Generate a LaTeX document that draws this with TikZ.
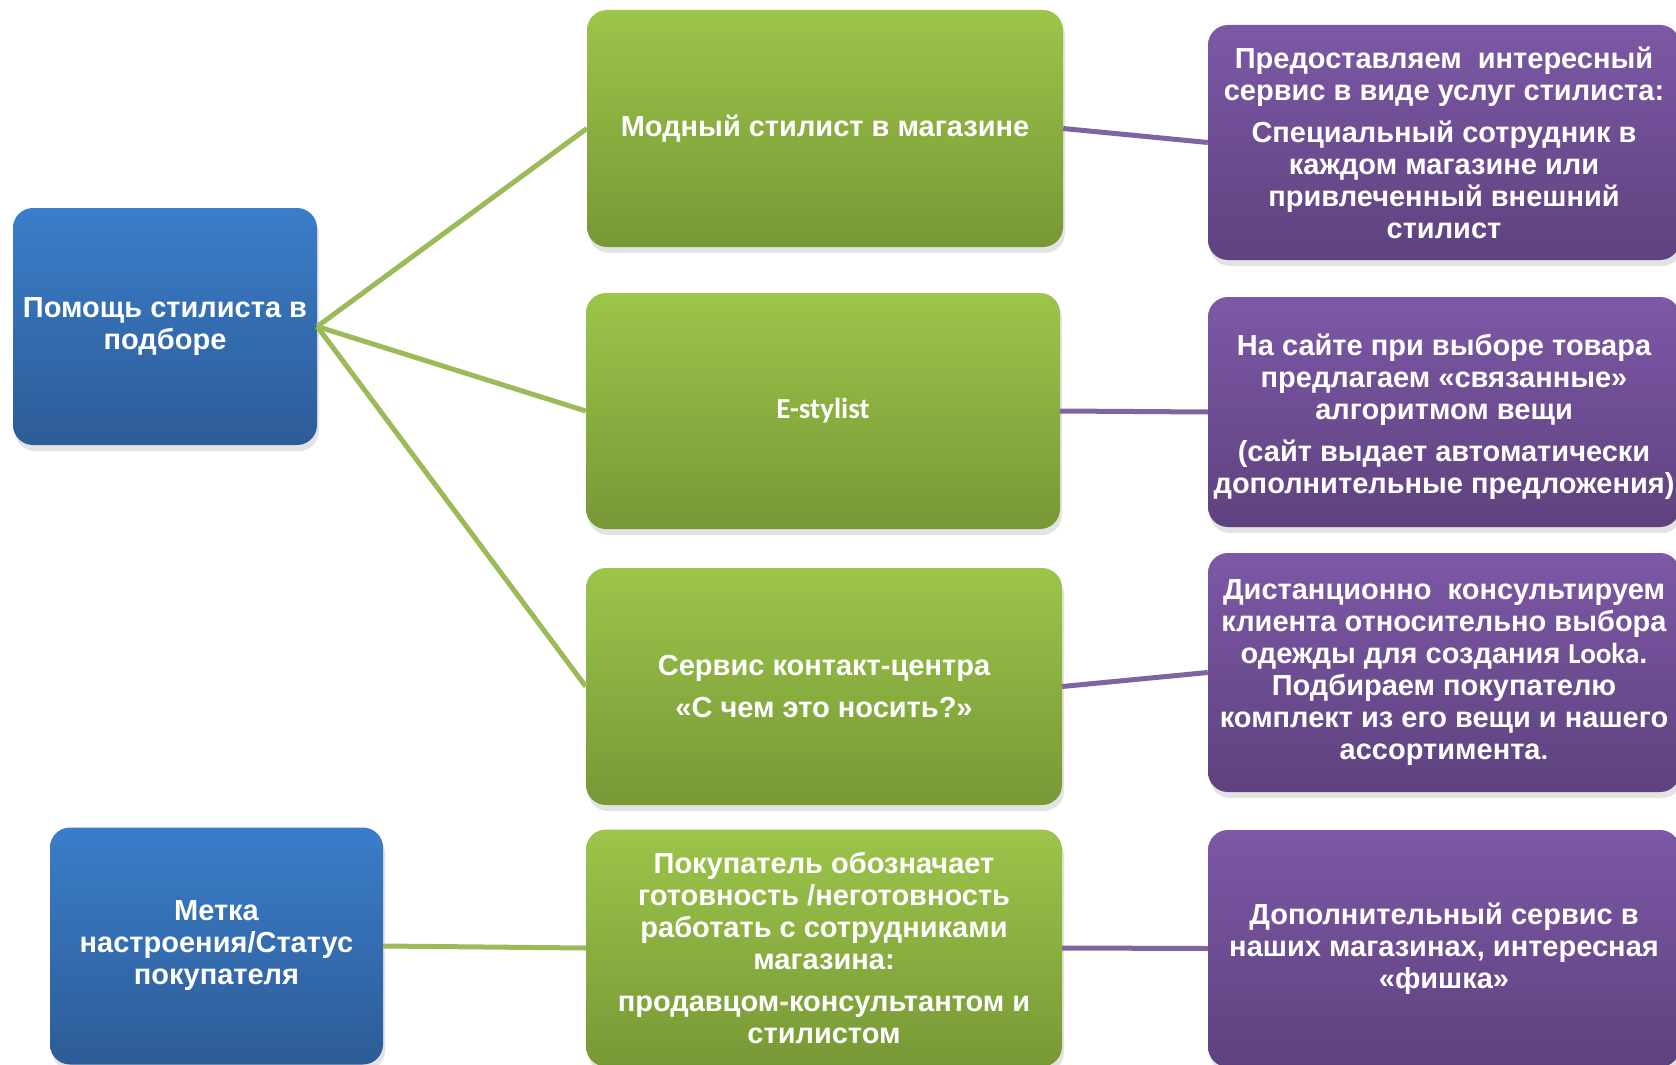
\documentclass[tikz,border=0pt]{standalone}
\usepackage{fontspec}
\setmainfont{Liberation Sans}
\newfontfamily\calibrifont{Carlito}
\usetikzlibrary{shadows}

\definecolor{blueTop}{HTML}{3A7DC9}
\definecolor{blueBot}{HTML}{2D5C97}
\definecolor{greenTop}{HTML}{9CC54A}
\definecolor{greenBot}{HTML}{779836}
\definecolor{violetTop}{HTML}{7D58A6}
\definecolor{violetBot}{HTML}{5E427E}
\definecolor{greenLine}{HTML}{9BBB59}
\definecolor{violetLine}{HTML}{8064A2}

\begin{document}
\begin{tikzpicture}[x=1pt,y=-1pt,
		box/.style={rounded corners=20pt, text=white, align=center, inner sep=0pt,
			font=\fontsize{29}{32}\selectfont\bfseries,
			drop shadow={opacity=0.22, shadow xshift=2pt, shadow yshift=-6pt}},
		bluebox/.style={box, top color=blueTop, bottom color=blueBot},
		greenbox/.style={box, top color=greenTop, bottom color=greenBot, minimum width=476pt, minimum height=237pt},
		violetbox/.style={box, top color=violetTop, bottom color=violetBot, minimum width=472pt},
		greenlink/.style={draw=greenLine, line width=5pt},
		violetlink/.style={draw=violetLine, line width=5pt}]
		\useasboundingbox (0,0) rectangle (1676,1065);% keep the page size

		% left column
		\node[bluebox, minimum width=304pt, minimum height=237pt] (help) at (165,326.5)
			{Помощь стилиста в\\ подборе};
		\node[bluebox, minimum width=333pt, minimum height=237pt] (mark) at (216.5,946)
			{Метка\\ настроения/Статус\\ покупателя};

		% middle column
		\node[greenbox] (shop)  at (825,128.5) {Модный стилист в магазине};
		\node[greenbox, minimum width=474pt, minimum height=236pt] (estyl) at (823,411)
			{\calibrifont\fontsize{29}{30}\selectfont\bfseries E-stylist};
		\node[greenbox] (call)  at (824,686.5) {Сервис контакт-центра\\[10pt] «С чем это носить?»};
		\node[greenbox] (ready) at (824,948)
			{Покупатель обозначает\\ готовность /неготовность\\ работать с сотрудниками\\ магазина:\\[10pt]
			 продавцом-консультантом и\\ стилистом};

		% right column
		\node[violetbox, minimum height=235pt] (tipA) at (1444,142.5)
			{Предоставляем\ \ интересный\\ сервис в виде услуг стилиста:\\[10pt]
			 Специальный сотрудник в\\ каждом магазине или\\ привлеченный внешний\\ стилист};
		\node[violetbox, minimum height=230pt] (tipB) at (1444,412)
			{\rule{0pt}{8pt}\\[-8pt]На сайте при выборе товара\\ предлагаем «связанные»\\ алгоритмом вещи\\[10pt]
			 (сайт выдает автоматически\\ дополнительные предложения)};% text sits a bit low
		\node[violetbox, minimum height=239pt] (tipC) at (1444,672.5)
			{Дистанционно\ \ консультируем\\ клиента относительно выбора\\
			 одежды для создания {\calibrifont\bfseries Looka}.\\ Подбираем покупателю\\
			 комплект из его вещи и нашего\\ ассортимента{\calibrifont\bfseries .}};
		\node[violetbox, minimum height=237pt] (tipD) at (1444,948.5)
			{Дополнительный сервис в\\ наших магазинах, интересная\\ «фишка»};

		% connectors
		\foreach \g in {shop,estyl,call}{%
			\draw[greenlink] (help.east) -- (\g.west);
		}
		\draw[greenlink] (mark.east) -- (ready.west);
		\foreach \g/\t in {shop/tipA,estyl/tipB,call/tipC,ready/tipD}{%
			\draw[violetlink] (\g.east) -- (\t.west);
		}
	  \end{tikzpicture}
\end{document}
